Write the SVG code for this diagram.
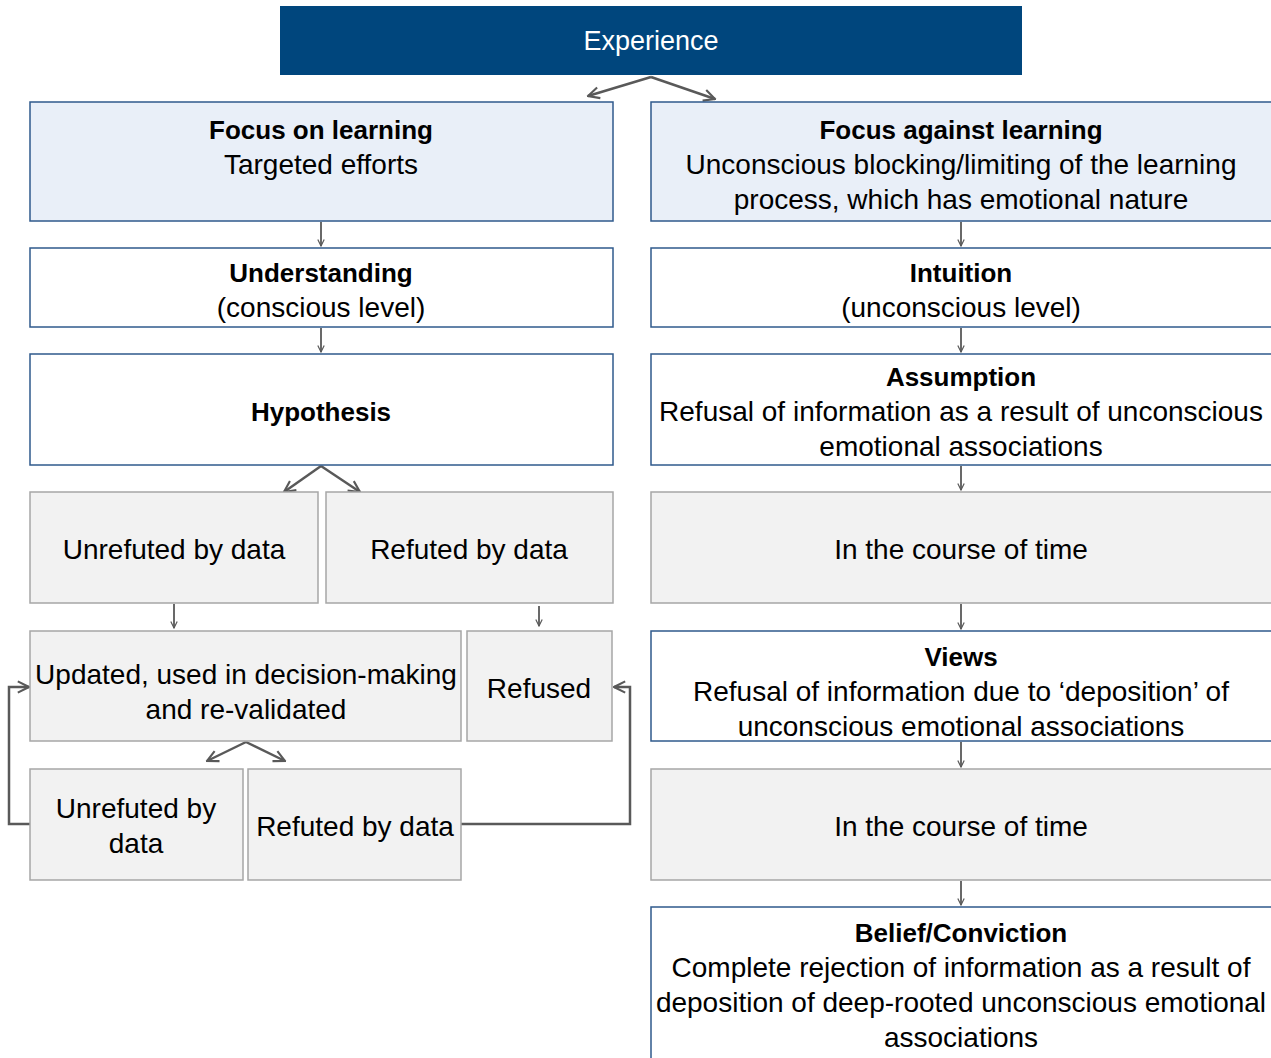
<svg xmlns="http://www.w3.org/2000/svg" width="1271" height="1058" viewBox="0 0 1271 1058">
<style>
text{font-family:"Liberation Sans",Arial,sans-serif;font-size:28px;fill:#000;text-anchor:middle}
.b{font-weight:bold;font-size:26px}
.w{fill:#fff;font-size:27px}
.blue{fill:#E9EFF8;stroke:#2F5A8C;stroke-width:1.5}
.white{fill:#fff;stroke:#2F5A8C;stroke-width:1.5}
.grey{fill:#F2F2F2;stroke:#A6A6A6;stroke-width:1.5}
.c{fill:none;stroke:#595959;stroke-width:1.8}
.c2{fill:none;stroke:#595959;stroke-width:2.5}
</style>
<defs>
<marker id="a" viewBox="0 0 10 10" refX="9" refY="5" markerWidth="8" markerHeight="8" markerUnits="userSpaceOnUse" orient="auto"><path d="M1,1 L9,5 L1,9" fill="none" stroke="#595959" stroke-width="1.5"/></marker>
<marker id="a2" viewBox="0 0 10 10" refX="9" refY="5" markerWidth="14" markerHeight="14" markerUnits="userSpaceOnUse" orient="auto"><path d="M1,1 L9,5 L1,9" fill="none" stroke="#595959" stroke-width="1.5"/></marker>
</defs>
<g id="connectors">
<path class="c2" d="M651,77 L588,96" marker-end="url(#a2)"/>
<path class="c2" d="M651,77 L715,99" marker-end="url(#a2)"/>
<path class="c" d="M321,222 V246" marker-end="url(#a)"/>
<path class="c" d="M961,222 V246" marker-end="url(#a)"/>
<path class="c" d="M321,328 V352" marker-end="url(#a)"/>
<path class="c" d="M961,328 V352" marker-end="url(#a)"/>
<path class="c2" d="M321,466 L284,492" marker-end="url(#a2)"/>
<path class="c2" d="M321,466 L360,492" marker-end="url(#a2)"/>
<path class="c" d="M961,466 V490" marker-end="url(#a)"/>
<path class="c" d="M174,604 V628" marker-end="url(#a)"/>
<path class="c" d="M539,606 V626" marker-end="url(#a)"/>
<path class="c" d="M961,604 V629" marker-end="url(#a)"/>
<path class="c2" d="M246,742 L207,761" marker-end="url(#a2)"/>
<path class="c2" d="M246,742 L285,761" marker-end="url(#a2)"/>
<path class="c" d="M961,742 V767" marker-end="url(#a)"/>
<path class="c" d="M961,881 V905" marker-end="url(#a)"/>
<path class="c2" d="M32,824 H9 V687 H29" marker-end="url(#a2)"/>
<path class="c2" d="M461,824 H630 V687 H614" marker-end="url(#a2)"/>
</g>
<g id="experience"><rect x="280" y="6" width="742" height="69" fill="#00467D"/><text class="w" x="651" y="50">Experience</text></g>
<g id="focus-on"><rect class="blue" x="30" y="102" width="583" height="119"/><text class="b" x="321" y="139">Focus on learning</text><text x="321" y="174">Targeted efforts</text></g>
<g id="focus-against"><rect class="blue" x="651" y="102" width="625" height="119"/><text class="b" x="961" y="139">Focus against learning</text><text x="961" y="174">Unconscious blocking/limiting of the learning</text><text x="961" y="209">process, which has emotional nature</text></g>
<g id="understanding"><rect class="white" x="30" y="248" width="583" height="79"/><text class="b" x="321" y="282">Understanding</text><text x="321" y="317">(conscious level)</text></g>
<g id="intuition"><rect class="white" x="651" y="248" width="625" height="79"/><text class="b" x="961" y="282">Intuition</text><text x="961" y="317">(unconscious level)</text></g>
<g id="hypothesis"><rect class="white" x="30" y="354" width="583" height="111"/><text class="b" x="321" y="421">Hypothesis</text></g>
<g id="assumption"><rect class="white" x="651" y="354" width="625" height="111"/><text class="b" x="961" y="386">Assumption</text><text x="961" y="421">Refusal of information as a result of unconscious</text><text x="961" y="456">emotional associations</text></g>
<g id="unrefuted1"><rect class="grey" x="30" y="492" width="288" height="111"/><text x="174" y="559">Unrefuted by data</text></g>
<g id="refuted1"><rect class="grey" x="326" y="492" width="287" height="111"/><text x="469" y="559">Refuted by data</text></g>
<g id="course1"><rect class="grey" x="651" y="492" width="625" height="111"/><text x="961" y="559">In the course of time</text></g>
<g id="updated"><rect class="grey" x="30" y="631" width="431" height="110"/><text x="246" y="684">Updated, used in decision-making</text><text x="246" y="719">and re-validated</text></g>
<g id="refused"><rect class="grey" x="467" y="631" width="145" height="110"/><text x="539" y="698">Refused</text></g>
<g id="views"><rect class="white" x="651" y="631" width="625" height="110"/><text class="b" x="961" y="666">Views</text><text x="961" y="701">Refusal of information due to ‘deposition’ of</text><text x="961" y="736">unconscious emotional associations</text></g>
<g id="unrefuted2"><rect class="grey" x="30" y="769" width="213" height="111"/><text x="136" y="818">Unrefuted by</text><text x="136" y="853">data</text></g>
<g id="refuted2"><rect class="grey" x="248" y="769" width="213" height="111"/><text x="355" y="836">Refuted by data</text></g>
<g id="course2"><rect class="grey" x="651" y="769" width="625" height="111"/><text x="961" y="836">In the course of time</text></g>
<g id="belief"><rect class="white" x="651" y="907" width="625" height="160"/><text class="b" x="961" y="942">Belief/Conviction</text><text x="961" y="977">Complete rejection of information as a result of</text><text x="961" y="1012">deposition of deep-rooted unconscious emotional</text><text x="961" y="1047">associations</text></g>
</svg>
